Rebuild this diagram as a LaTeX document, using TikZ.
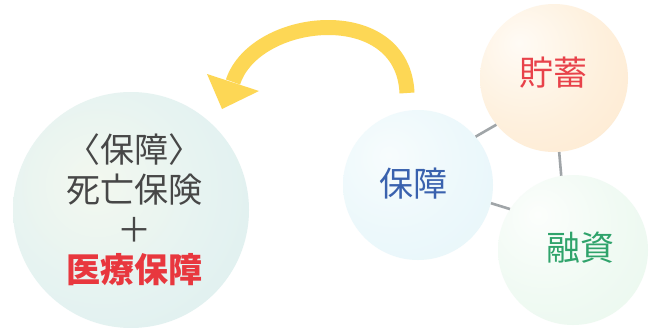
\documentclass[tikz,border=0pt]{standalone}
\usepackage{fontspec}
\newfontfamily\jp{Noto Sans CJK JP}
\definecolor{txtgray}{HTML}{474747}
\definecolor{medred}{HTML}{E8373E}
\definecolor{savred}{HTML}{E8424A}
\definecolor{hoblue}{HTML}{3A62AE}
\definecolor{loangreen}{HTML}{2FA36B}
\definecolor{linkgray}{HTML}{A0A5A8}
\definecolor{arrowcol}{HTML}{FDD755}
\definecolor{bigA}{HTML}{F3F8EF}
\definecolor{bigB}{HTML}{E6F3F1}
\definecolor{bigC}{HTML}{D4EBEE}
\definecolor{hoA}{HTML}{F7FCFD}
\definecolor{hoB}{HTML}{ECF8FB}
\definecolor{hoC}{HTML}{E1F3F8}
\definecolor{saA}{HTML}{FFFBF5}
\definecolor{saB}{HTML}{FEF0DD}
\definecolor{saC}{HTML}{FCE2C2}
\definecolor{loA}{HTML}{FCFEFC}
\definecolor{loB}{HTML}{F0FAF3}
\definecolor{loC}{HTML}{E3F5E8}
\pgfdeclareradialshading{bigshade}{\pgfpoint{-8bp}{6bp}}{color(0bp)=(bigA); color(22bp)=(bigB); color(60bp)=(bigC); color(100bp)=(bigC)}
\pgfdeclareradialshading{hoshade}{\pgfpoint{-10bp}{10bp}}{color(0bp)=(hoA); color(25bp)=(hoB); color(64bp)=(hoC); color(100bp)=(hoC)}
\pgfdeclareradialshading{sashade}{\pgfpoint{-12bp}{12bp}}{color(0bp)=(saA); color(25bp)=(saB); color(66bp)=(saC); color(100bp)=(saC)}
\pgfdeclareradialshading{loshade}{\pgfpoint{-12bp}{12bp}}{color(0bp)=(loA); color(25bp)=(loB); color(66bp)=(loC); color(100bp)=(loC)}
\tikzset{
  bubble/.style={circle, inner sep=0pt},
  jptext/.style={font=\jp\fontsize{34}{40}\selectfont, inner sep=0pt, align=center},
  link/.style={draw=linkgray, line width=2.6pt},
  arrowbody/.style={draw=arrowcol, line width=15pt},
}
\begin{document}
\begin{tikzpicture}[x=1pt,y=-1pt]
\useasboundingbox (0,0) rectangle (650,327);
\fill[white] (0,0) rectangle (650,327);

% circles
\node[bubble, minimum size=236pt, shading=bigshade] (bigc) at (131,210) {};
\node[bubble, minimum size=150pt, shading=hoshade] (hosho) at (418,185) {};
\node[bubble, minimum size=148pt, shading=sashade] (choiku) at (554,78) {};
\node[bubble, minimum size=150pt, shading=loshade] (yushi) at (573,250) {};

% connectors
\draw[link] (hosho.40.7) -- (choiku.-141.6);
\draw[link] (choiku.-86) -- (yushi.99);
\draw[link] (hosho.-14) -- (yushi.147);

% texts
\node[jptext, text=txtgray] (bigtext) at (134,210) {〈保障〉\\死亡保険\\＋\\{\bfseries\color{medred}医療保障}};
\node[jptext, text=hoblue] (hoshotext) at (413,184) {保障};
\node[jptext, text=savred] (choikutext) at (553,73) {貯蓄};
\node[jptext, text=loangreen] (yushitext) at (580,248) {融資};

% curved arrow
\coordinate (atail) at (407,93);
\coordinate (ahead) at (233,82);
\coordinate (tipL) at (207,74);
\coordinate (tipR) at (259,91);
\coordinate (tip) at (222,109);
\draw[arrowbody] (atail) .. controls (403,0) and (255,15) .. (ahead);
\fill[arrowcol] (tipL) -- (tipR) -- (tip) -- cycle;
\end{tikzpicture}
\end{document}
